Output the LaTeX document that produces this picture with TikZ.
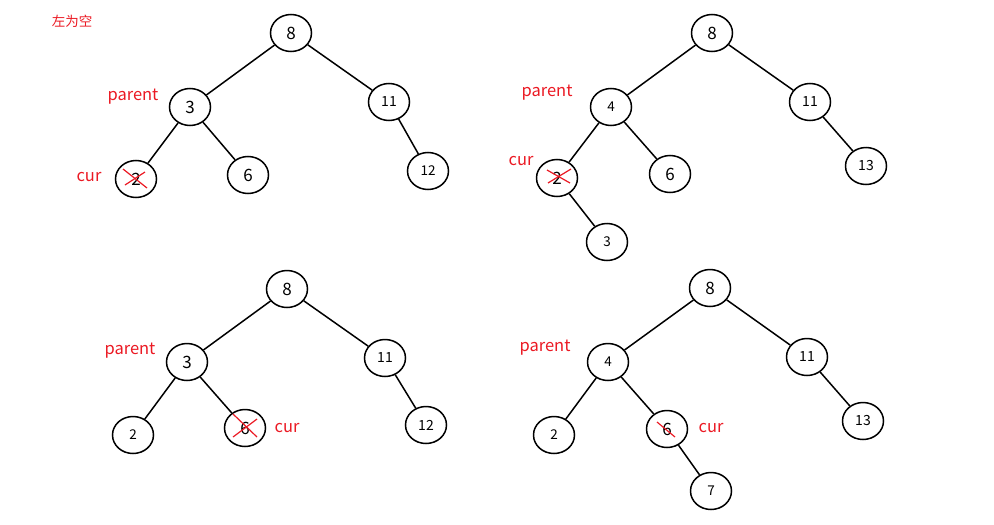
\documentclass[tikz,border=0pt]{standalone}
\usepackage{fontspec}
\setmainfont{Noto Sans CJK SC}
\usetikzlibrary{shapes.geometric}
\definecolor{labred}{RGB}{235,25,35}
\tikzset{
  tn/.style={draw, ellipse, line width=1.5pt, minimum width=41pt, minimum height=37pt, inner sep=0pt},
  big/.style={font=\fontsize{17}{17}\selectfont},
  sml/.style={font=\fontsize{13.5}{13.5}\selectfont},
  med/.style={font=\fontsize{14}{14}\selectfont},
  edge/.style={line width=1.5pt},
  lbl/.style={text=labred, font=\fontsize{16.5}{16.5}\selectfont, inner sep=0pt},
  redx/.style={draw=labred, line width=1.2pt}
}
\begin{document}
\begin{tikzpicture}[x=1pt,y=-1pt]
\useasboundingbox (0,0) rectangle (994,525);
\node[text=labred, font=\fontsize{13.5}{13.5}\selectfont, inner sep=0pt] (title) at (72,21) {左为空};
% ---- tree A (top-left)
\node[tn,big] (a8) at (291,33) {8};
\node[tn,big] (a3) at (190,107) {3};
\node[tn,med] (a11) at (389,102) {11};
\node[tn,big] (a2) at (136,179) {2};
\node[tn,big] (a6) at (248,175) {6};
\node[tn,sml] (a12) at (428,171) {12};
\draw[edge] (a8) -- (a3);
\draw[edge] (a8) -- (a11);
\draw[edge] (a3) -- (a2);
\draw[edge] (a3) -- (a6);
\draw[edge] (a11) -- (a12);
\node[lbl] (ap) at (133,97) {parent};
\node[lbl] (ac) at (89,177) {cur};
\draw[redx] ([shift={(-13,-10)}]a2.center) -- ([shift={(11,9)}]a2.center);
\draw[redx] ([shift={(-11,6)}]a2.center) -- ([shift={(9,-7)}]a2.center);
% ---- tree B (top-right)
\node[tn,big] (b8) at (712,33) {8};
\node[tn,sml] (b4) at (611,107) {4};
\node[tn,med] (b11) at (810,102) {11};
\node[tn,big] (b2) at (557,178) {2};
\node[tn,big] (b6) at (670,174) {6};
\node[tn,med] (b13) at (866,166) {13};
\node[tn,sml] (b3) at (607,242) {3};
\draw[edge] (b8) -- (b4);
\draw[edge] (b8) -- (b11);
\draw[edge] (b4) -- (b2);
\draw[edge] (b4) -- (b6);
\draw[edge] (b11) -- (b13);
\draw[edge] (b2) -- (b3);
\node[lbl] (bp) at (547,93) {parent};
\node[lbl] (bc) at (521,161) {cur};
\draw[redx] ([shift={(-10,-8)}]b2.center) -- ([shift={(13,5)}]b2.center);
\draw[redx] ([shift={(-9,5)}]b2.center) -- ([shift={(14,-9)}]b2.center);
% ---- tree C (bottom-left)
\node[tn,big] (c8) at (287,289) {8};
\node[tn,big] (c3) at (187,362) {3};
\node[tn,med] (c11) at (385,358) {11};
\node[tn,sml] (c2) at (133,435) {2};
\node[tn,big] (c6) at (245,428) {6};
\node[tn,med] (c12) at (426,425) {12};
\draw[edge] (c8) -- (c3);
\draw[edge] (c8) -- (c11);
\draw[edge] (c3) -- (c2);
\draw[edge] (c3) -- (c6);
\draw[edge] (c11) -- (c12);
\node[lbl] (cp) at (130,351) {parent};
\node[lbl] (cc) at (287,428) {cur};
\draw[redx] ([shift={(-12,-14)}]c6.center) -- ([shift={(12,9)}]c6.center);
\draw[redx] ([shift={(-12,9)}]c6.center) -- ([shift={(12,-9)}]c6.center);
% ---- tree D (bottom-right)
\node[tn,big] (d8) at (710,288) {8};
\node[tn,sml] (d4) at (608,362) {4};
\node[tn,med] (d11) at (807,357) {11};
\node[tn,sml] (d2) at (554,435) {2};
\node[tn,big] (d6) at (667,429) {6};
\node[tn,med] (d13) at (863,421) {13};
\node[tn,sml] (d7) at (711,491) {7};
\draw[edge] (d8) -- (d4);
\draw[edge] (d8) -- (d11);
\draw[edge] (d4) -- (d2);
\draw[edge] (d4) -- (d6);
\draw[edge] (d11) -- (d13);
\draw[edge] (d6) -- (d7);
\node[lbl] (dp) at (545,348) {parent};
\node[lbl] (dc) at (711,428) {cur};
\draw[redx] ([shift={(-10,-7)}]d6.center) -- ([shift={(8,8)}]d6.center);
\end{tikzpicture}
\end{document}
